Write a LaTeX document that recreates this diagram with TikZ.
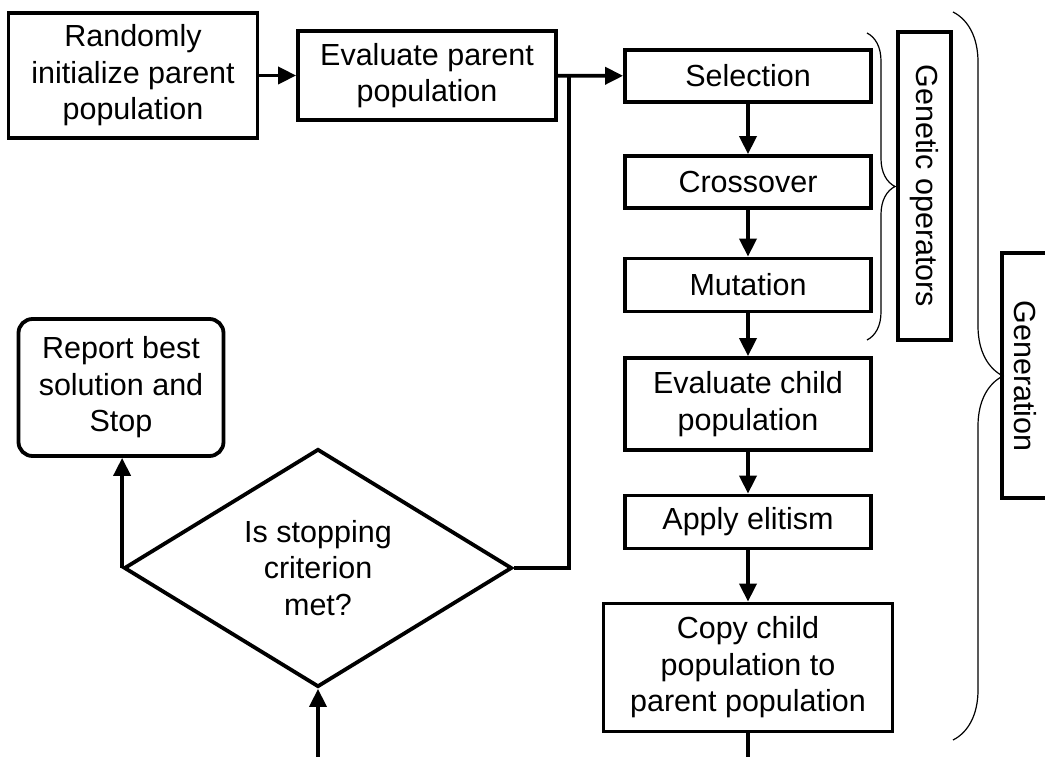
\documentclass[tikz,border=0pt]{standalone}
\usepackage{fontspec}
\setmainfont{Liberation Sans}
\usetikzlibrary{arrows.meta,shapes.geometric,decorations.pathreplacing}

\begin{document}
\begin{tikzpicture}[x=1pt,y=-1pt,
  every node/.style={font=\fontsize{30.5}{36.5}\selectfont,align=center,inner sep=0pt},
  box/.style={draw,line width=3.8pt,minimum width=246pt,minimum height=52pt},
  decision/.style={draw,line width=3.8pt,diamond,aspect=1.63,minimum width=388pt,minimum height=238pt},
  flow/.style={line width=3.8pt,-{Triangle[length=18pt,width=17pt]}},
  link/.style={line width=3.8pt},
  curly/.style={line width=1.2pt,decorate,decoration={brace,amplitude=#1}}]
\useasboundingbox (0,0) rectangle (1045,757);
\node [box,minimum width=249pt,minimum height=125pt] (init) at (133,75.5) {Randomly\\initialize parent\\population};
\node [box,minimum width=258pt,minimum height=89pt] (evalp) at (427,75.5) {Evaluate parent\\population};
\node [box] (sel) at (748,76) {Selection};
\node [box] (cross) at (748,182) {Crossover};
\node [box,minimum height=53pt] (mut) at (748,285) {Mutation};
\node [box,minimum height=92pt] (evalc) at (748,404) {Evaluate child\\population};
\node [box,minimum height=53pt] (elit) at (748,522) {Apply elitism};
\node [box,minimum width=289pt,minimum height=128pt] (copy) at (748,667.5) {Copy child\\population to\\parent population};
\node [draw,line width=3.8pt,rounded corners=14pt,minimum width=205pt,minimum height=137pt] (report) at (121,387.5) {Report best\\solution and\\Stop};
\node [decision] (stop) at (318,568) {Is stopping\\criterion\\met?};
\node [draw,line width=3.8pt,rotate=-90,minimum width=308pt,minimum height=53pt] (genop) at (924.5,186) {Genetic operators};
\draw [link] (1002,253) rectangle (1065,498);
\node [rotate=-90] (gen) at (1025,376) {Generation};
\coordinate (jn) at (569,75.5);
\coordinate (outc) at (748,770);
\coordinate (inc) at (318,770);
\draw [flow] (init) -- (evalp);
\draw [flow] (evalp) -- (sel);
\draw [flow] (sel) -- (cross);
\draw [flow] (cross) -- (mut);
\draw [flow] (mut) -- (evalc);
\draw [flow] (evalc) -- (elit);
\draw [flow] (elit) -- (copy);
\draw [link] (copy) -- (outc);
\draw [flow] (inc) -- (stop);
\draw [link] (stop.east) -| (jn);
\draw [flow] (stop.west) -- (stop.west |- report.south);
\draw [curly=28pt] (867,33) -- (867,340);
\draw [curly=50pt] (953,12) -- (953,740);
\end{tikzpicture}
\end{document}
